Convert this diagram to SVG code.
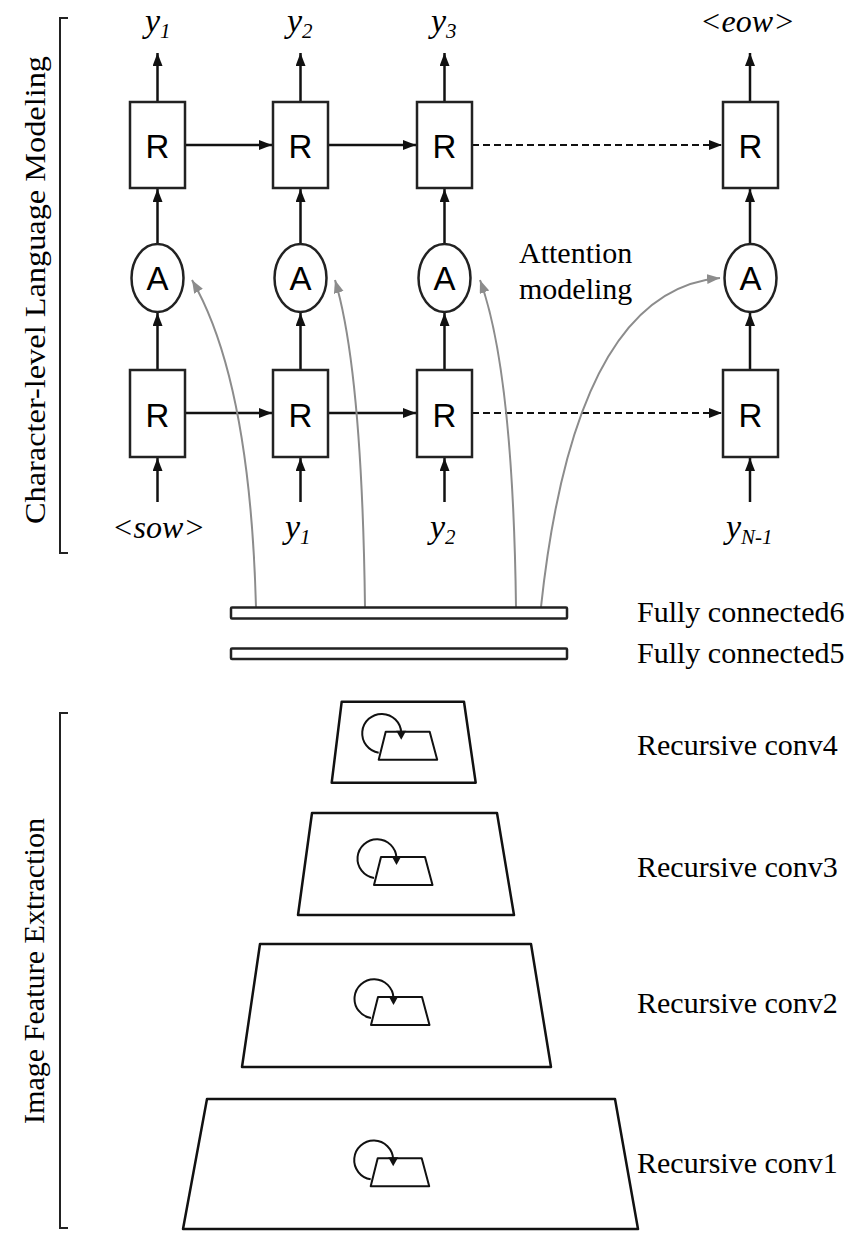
<svg xmlns="http://www.w3.org/2000/svg" width="865" height="1241" viewBox="0 0 865 1241">
<defs>
<style>
.box{fill:#fff;stroke:#222;stroke-width:2.5}
.ln{fill:none;stroke:#111;stroke-width:2.5}
.dash{fill:none;stroke:#111;stroke-width:2.2;stroke-dasharray:7,4}
.att{fill:none;stroke:#8c8c8c;stroke-width:2}
.sans{font-family:"Liberation Sans",Arial,sans-serif;font-size:33px;fill:#000}
.ser{font-family:"Liberation Serif","Times New Roman",serif;font-size:30px;fill:#000}
.it{font-family:"Liberation Serif","Times New Roman",serif;font-style:italic;font-size:32px;fill:#000}
.yy{font-size:34px}
.sub{font-size:21px}
.trap{fill:#fff;stroke:#111;stroke-width:2.5;stroke-linejoin:round}
.ico{fill:none;stroke:#111;stroke-width:2;stroke-linejoin:round}
.brk{fill:none;stroke:#222;stroke-width:2}
</style>
<marker id="ah" markerUnits="userSpaceOnUse" markerWidth="14" markerHeight="11" refX="13" refY="5" orient="auto"><path d="M0,0 L13,5 L0,10 z" fill="#111"/></marker>
<marker id="ag" markerUnits="userSpaceOnUse" markerWidth="14" markerHeight="11" refX="13" refY="5" orient="auto"><path d="M0,0 L13,5 L0,10 z" fill="#8c8c8c"/></marker>
<g id="icon">
<polygon class="ico" points="0,0 44,0 51.5,28 -7,28"/>
<path class="ico" d="M-7,21 A19.5,19.5 0 1 1 15.5,1"/>
<polygon points="15.5,8 10.5,-1 20.5,-1" fill="#111"/>
</g>
</defs>

<g id="brackets">
<path class="brk" d="M68,18 H60 V553 H68"/>
<text class="ser" font-size="33" transform="translate(45,290) rotate(-90)" text-anchor="middle" textLength="468" lengthAdjust="spacingAndGlyphs">Character-level Language Modeling</text>
<path class="brk" d="M68,713 H60 V1228 H68"/>
<text class="ser" font-size="31" transform="translate(44,971) rotate(-90)" text-anchor="middle" textLength="306" lengthAdjust="spacingAndGlyphs">Image Feature Extraction</text>
</g>

<g id="connectors">
<line class="ln" x1="157.5" y1="102" x2="157.5" y2="53" marker-end="url(#ah)"/>
<line class="ln" x1="300.5" y1="102" x2="300.5" y2="53" marker-end="url(#ah)"/>
<line class="ln" x1="444.5" y1="102" x2="444.5" y2="53" marker-end="url(#ah)"/>
<line class="ln" x1="750" y1="102" x2="750" y2="53" marker-end="url(#ah)"/>
<line class="ln" x1="185" y1="145" x2="272" y2="145" marker-end="url(#ah)"/>
<line class="ln" x1="328" y1="145" x2="416" y2="145" marker-end="url(#ah)"/>
<line class="dash" x1="472" y1="145" x2="722" y2="145" marker-end="url(#ah)"/>
<line class="ln" x1="157.5" y1="244" x2="157.5" y2="189" marker-end="url(#ah)"/>
<line class="ln" x1="300.5" y1="244" x2="300.5" y2="189" marker-end="url(#ah)"/>
<line class="ln" x1="444.5" y1="244" x2="444.5" y2="189" marker-end="url(#ah)"/>
<line class="ln" x1="750" y1="244" x2="750" y2="189" marker-end="url(#ah)"/>
<line class="ln" x1="157.5" y1="370" x2="157.5" y2="313" marker-end="url(#ah)"/>
<line class="ln" x1="300.5" y1="370" x2="300.5" y2="313" marker-end="url(#ah)"/>
<line class="ln" x1="444.5" y1="370" x2="444.5" y2="313" marker-end="url(#ah)"/>
<line class="ln" x1="750" y1="370" x2="750" y2="313" marker-end="url(#ah)"/>
<line class="ln" x1="185" y1="413" x2="272" y2="413" marker-end="url(#ah)"/>
<line class="ln" x1="328" y1="413" x2="416" y2="413" marker-end="url(#ah)"/>
<line class="dash" x1="472" y1="413" x2="722" y2="413" marker-end="url(#ah)"/>
<line class="ln" x1="157.5" y1="502" x2="157.5" y2="458" marker-end="url(#ah)"/>
<line class="ln" x1="300.5" y1="502" x2="300.5" y2="458" marker-end="url(#ah)"/>
<line class="ln" x1="444.5" y1="502" x2="444.5" y2="458" marker-end="url(#ah)"/>
<line class="ln" x1="750" y1="502" x2="750" y2="458" marker-end="url(#ah)"/>
<path class="att" d="M256,607 Q250,380 192,280" marker-end="url(#ag)"/>
<path class="att" d="M365,607 Q362,370 335,280" marker-end="url(#ag)"/>
<path class="att" d="M516,607 Q513,370 480,280" marker-end="url(#ag)"/>
<path class="att" d="M541,607 Q575,290 720,278" marker-end="url(#ag)"/>
</g>

<g id="rnn-top">
<rect class="box" x="130" y="102" width="55" height="86"/>
<rect class="box" x="273" y="102" width="55" height="86"/>
<rect class="box" x="417" y="102" width="55" height="86"/>
<rect class="box" x="723" y="102" width="55" height="86"/>
<text class="sans" x="157.5" y="158" text-anchor="middle">R</text>
<text class="sans" x="300.5" y="158" text-anchor="middle">R</text>
<text class="sans" x="444.5" y="158" text-anchor="middle">R</text>
<text class="sans" x="750.5" y="158" text-anchor="middle">R</text>
</g>

<g id="attention">
<ellipse class="box" cx="157.5" cy="278" rx="26" ry="34"/>
<ellipse class="box" cx="300.5" cy="278" rx="26" ry="34"/>
<ellipse class="box" cx="444.5" cy="278" rx="26" ry="34"/>
<ellipse class="box" cx="750.5" cy="278" rx="26" ry="34"/>
<text class="sans" x="157.5" y="290" text-anchor="middle">A</text>
<text class="sans" x="300.5" y="290" text-anchor="middle">A</text>
<text class="sans" x="444.5" y="290" text-anchor="middle">A</text>
<text class="sans" x="750.5" y="290" text-anchor="middle">A</text>
<text class="ser" x="519" y="263">Attention</text>
<text class="ser" x="519" y="299">modeling</text>
</g>

<g id="rnn-bottom">
<rect class="box" x="130" y="370" width="55" height="87"/>
<rect class="box" x="273" y="370" width="55" height="87"/>
<rect class="box" x="417" y="370" width="55" height="87"/>
<rect class="box" x="723" y="370" width="55" height="87"/>
<text class="sans" x="157.5" y="427" text-anchor="middle">R</text>
<text class="sans" x="300.5" y="427" text-anchor="middle">R</text>
<text class="sans" x="444.5" y="427" text-anchor="middle">R</text>
<text class="sans" x="750.5" y="427" text-anchor="middle">R</text>
</g>

<g id="outputs">
<text class="it yy" x="145" y="32">y<tspan class="sub" dy="6">1</tspan></text>
<text class="it yy" x="287" y="32">y<tspan class="sub" dy="6">2</tspan></text>
<text class="it yy" x="431" y="32">y<tspan class="sub" dy="6">3</tspan></text>
<text class="it" x="700" y="32">&lt;eow&gt;</text>
</g>

<g id="inputs">
<text class="it" x="112" y="538">&lt;sow&gt;</text>
<text class="it yy" x="285" y="538">y<tspan class="sub" dy="6">1</tspan></text>
<text class="it yy" x="430" y="538">y<tspan class="sub" dy="6">2</tspan></text>
<text class="it yy" x="726" y="538">y<tspan class="sub" dy="6">N-1</tspan></text>
</g>

<g id="fc6">
<rect class="box" x="231" y="607.5" width="336" height="11" rx="1"/>
<text class="ser" x="637" y="622">Fully connected6</text>
</g>
<g id="fc5">
<rect class="box" x="231" y="648.5" width="336" height="10.5" rx="1"/>
<text class="ser" x="637" y="663">Fully connected5</text>
</g>

<g id="conv4">
<polygon class="trap" points="341.7,701.7 464,701.7 475.7,782.7 331.7,782.7"/>
<use href="#icon" x="385.7" y="731.7"/>
<text class="ser" x="637" y="755">Recursive conv4</text>
</g>
<g id="conv3">
<polygon class="trap" points="312,813 497,813 514,915 298,915"/>
<use href="#icon" x="381" y="857"/>
<text class="ser" x="637" y="877">Recursive conv3</text>
</g>
<g id="conv2">
<polygon class="trap" points="260,944 531,944 551,1067 242,1067"/>
<use href="#icon" x="378" y="997"/>
<text class="ser" x="637" y="1013">Recursive conv2</text>
</g>
<g id="conv1">
<polygon class="trap" points="207,1099 615,1099 638,1229 183,1229"/>
<use href="#icon" x="377.7" y="1158.3"/>
<text class="ser" x="637" y="1173">Recursive conv1</text>
</g>
</svg>
